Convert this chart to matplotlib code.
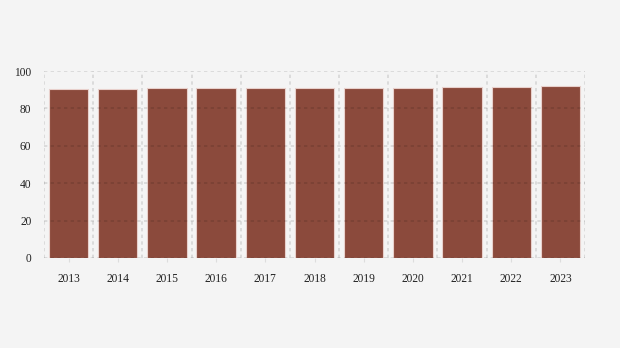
import matplotlib
matplotlib.use("Agg")
import matplotlib.pyplot as plt
import numpy as np

years = ["2013", "2014", "2015", "2016", "2017", "2018", "2019", "2020", "2021", "2022", "2023"]
values = [90.4, 90.4, 90.9, 90.9, 90.9, 90.9, 90.9, 90.9, 91.4, 91.4, 92.1]
yticks = [0, 20, 40, 60, 80, 100]

plt.rcParams['font.family'] = ['Liberation Serif', 'DejaVu Serif']
bg = '#f4f4f4'
fig = plt.figure(figsize=(6.2, 3.48), dpi=100, facecolor=bg)
ax = fig.add_axes([44/620, 1-258/348, (585-44)/620, (258-71)/348])
ax.set_facecolor(bg)
x = np.arange(len(years))
ax.bar(x, values, width=0.8, color='#8b4a3c', edgecolor='#e8d0cc', linewidth=0.8, zorder=2)
ax.set_xlim(-0.5, len(years) - 0.5)
ax.set_ylim(0, 100)
ax.set_yticks(yticks)
ax.set_xticks(x)
ax.set_xticklabels(years)
ax.set_xticks(np.arange(-0.5, len(years), 1), minor=True)
ax.tick_params(axis='x', which='major', length=3, color='#dddddd', labelsize=8.3, pad=8, labelcolor='#222222')
ax.tick_params(axis='x', which='minor', length=0)
ax.tick_params(axis='y', length=0, labelsize=8.3, pad=9, labelcolor='#222222')
for sp in ax.spines.values():
    sp.set_visible(False)
ax.grid(axis='y', which='major', color='black', alpha=0.12, linestyle=(0, (2, 2)), linewidth=1.2, zorder=3)
ax.grid(axis='x', which='minor', color='black', alpha=0.12, linestyle=(0, (2, 2)), linewidth=1.2, zorder=3)
ax.grid(axis='x', which='major', visible=False)
ax.set_axisbelow(False)
fig.savefig('out.png', dpi=100, facecolor=bg)
